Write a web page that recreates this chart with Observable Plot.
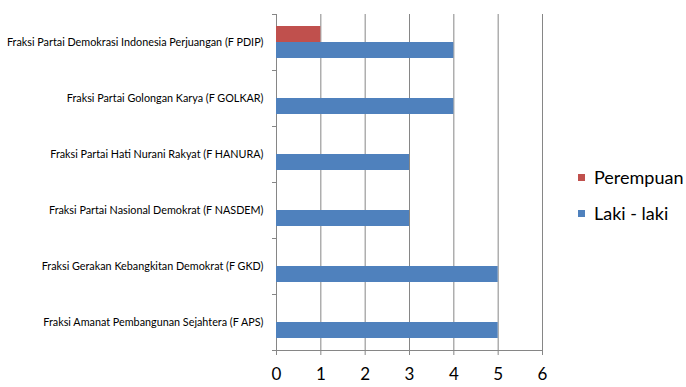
<!DOCTYPE html>
<html><head><meta charset="utf-8">
<script src="https://cdn.jsdelivr.net/npm/d3@7"></script>
<script src="https://cdn.jsdelivr.net/npm/@observablehq/plot@0.6"></script>
<style>
body{margin:0;background:#fff;}
#wrap{position:relative;width:686px;height:387px;font-family:Lato,sans-serif;}
#legend{position:absolute;left:578px;top:159px;font-size:18px;color:#000;line-height:36px;}
.item{display:flex;align-items:center;height:36px;white-space:nowrap;}
.sw{width:7px;height:7px;margin-right:9px;flex:none;}
</style></head><body><div id="wrap"><div id="legend"></div></div>
<script>
const categories = [
  "Fraksi Partai Demokrasi Indonesia Perjuangan (F PDIP)",
  "Fraksi Partai Golongan Karya (F GOLKAR)",
  "Fraksi Partai Hati Nurani Rakyat (F HANURA)",
  "Fraksi Partai Nasional Demokrat (F NASDEM)",
  "Fraksi Gerakan Kebangkitan Demokrat (F GKD)",
  "Fraksi Amanat Pembangunan Sejahtera (F APS)"
];
const series = ["Perempuan", "Laki - laki"];
const perempuan = [1, 0, 0, 0, 0, 0];
const lakiLaki = [4, 4, 3, 3, 5, 5];
const colors = ["#C0504D", "#4F81BD"];
const xTicks = [0, 1, 2, 3, 4, 5, 6];

const data = categories.flatMap((c, i) => [
  {cat: c, s: series[0], v: perempuan[i]},
  {cat: c, s: series[1], v: lakiLaki[i]}
]);

const gray = "#868686";
const chart = Plot.plot({
  width: 686, height: 387,
  marginLeft: 276, marginRight: 144, marginTop: 11, marginBottom: 35,
  style: {fontFamily: "Lato, sans-serif", background: "transparent", color: "#000"},
  x: {domain: [0, 6], ticks: xTicks},
  y: {domain: series, paddingInner: 0, paddingOuter: 0.7, axis: null},
  fy: {domain: categories, padding: 0, label: null},
  color: {domain: series, range: colors},
  marks: [
    Plot.ruleX(xTicks.slice(1), {stroke: gray, strokeWidth: 1}),
    Plot.ruleX([0], {stroke: gray, strokeWidth: 1}),
    Plot.frame({anchor: "top", insetLeft: -4, insetRight: 266, stroke: gray}),
    Plot.frame({anchor: "bottom", insetLeft: -4, stroke: gray, facet: "super"}),
    Plot.barX(data, {fy: "cat", y: "s", x: "v", fill: "s"}),
    Plot.axisFy({anchor: "left", tickSize: 0, tickPadding: 13, fontSize: 10.8, label: null}),
    Plot.axisX({anchor: "bottom", ticks: xTicks, tickFormat: "d", tickSize: 5, tickPadding: 12, fontSize: 17, stroke: gray, fill: "#000", label: null})
  ]
});
document.getElementById("wrap").prepend(chart);

const legend = document.getElementById("legend");
series.forEach((s, i) => {
  const item = document.createElement("div");
  item.className = "item";
  const sw = document.createElement("span");
  sw.className = "sw";
  sw.style.background = colors[i];
  const t = document.createElement("span");
  t.textContent = s;
  item.append(sw, t);
  legend.append(item);
});
</script>
</body></html>
